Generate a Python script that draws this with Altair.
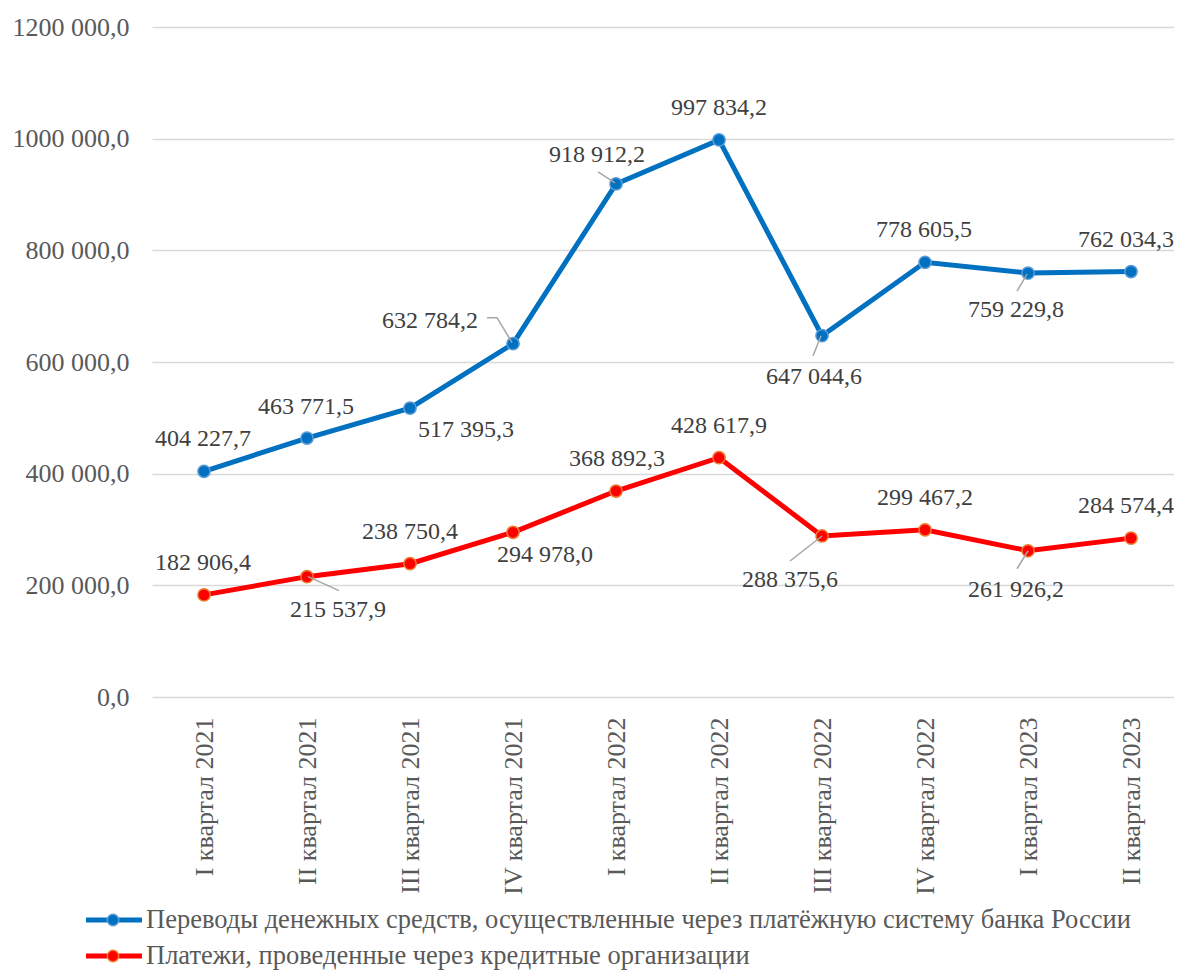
import json
import altair as alt
import pandas as pd

# ---------------- data ----------------
quarters = [
    "I квартал 2021", "II квартал 2021", "III квартал 2021", "IV квартал 2021",
    "I квартал 2022", "II квартал 2022", "III квартал 2022", "IV квартал 2022",
    "I квартал 2023", "II квартал 2023",
]
transfers = [404227.7, 463771.5, 517395.3, 632784.2, 918912.2,
             997834.2, 647044.6, 778605.5, 759229.8, 762034.3]
payments = [182906.4, 215537.9, 238750.4, 294978.0, 368892.3,
            428617.9, 288375.6, 299467.2, 261926.2, 284574.4]
series_names = [
    "Переводы денежных средств, осуществленные через платёжную систему банка России",
    "Платежи, проведенные через кредитные организации",
]
line_colors = ["#0070C0", "#FF0000"]
marker_strokes = ["#5B9BD5", "#ED7D31"]
y_ticks = [0, 200000, 400000, 600000, 800000, 1000000, 1200000]

# label offsets in pixels (dx, dy) from each point
label_offsets = [
    [(-1, -32), (-1, -31), (56, 22), (-83, -23), (-19, -29),
     (0, -32), (-8, 41), (-1, -32), (-12, 37), (-5, -32)],
    [(-1, -32), (31, 33), (0, -32), (32, 23), (1, -32),
     (0, -32), (-32, 44), (0, -32), (-12, 39), (-5, -32)],
]
# leader lines (pixel offsets from point), keyed by (series, index)
leaders = {
    (0, 3): [(-26, -26), (-16, -26), (-1, -1)],
    (0, 4): [(-18, -12), (-1, -1)],
    (0, 6): [(-9, 20), (-1, 0)],
    (0, 8): [(-11, 18), (-1, 1)],
    (1, 1): [(32, 14), (1, 0)],
    (1, 6): [(-32, 25), (0, 0)],
    (1, 8): [(-11, 18), (0, 0)],
}

# ---------------- geometry ----------------
W, H = 1022, 670
X_DOM = [-0.505, 9.417]
Y_DOM = [0, 1200000]
PX_X = W / (X_DOM[1] - X_DOM[0])
PX_Y = H / (Y_DOM[1] - Y_DOM[0])
FONT = "Liberation Serif"
FS = 24
AXIS_FS = 26
LEG_FS = 26.5


def fmt(v):
    return f"{v:,.1f}".replace(",", " ").replace(".", ",")


rows, lab_rows, lead_rows = [], [], []
for s, vals in enumerate([transfers, payments]):
    for i, v in enumerate(vals):
        rows.append({"i": i, "v": v, "series": series_names[s]})
        dx, dy = label_offsets[s][i]
        lab_rows.append({"lx": i + dx / PX_X, "ly": v - dy / PX_Y, "txt": fmt(v)})
        if (s, i) in leaders:
            for k, (ox, oy) in enumerate(leaders[(s, i)]):
                lead_rows.append({"id": f"{s}-{i}", "k": k,
                                  "lx": i + ox / PX_X, "ly": v - oy / PX_Y})

df = pd.DataFrame(rows)
lab_df = pd.DataFrame(lab_rows)
lead_df = pd.DataFrame(lead_rows)

label_expr = json.dumps(quarters, ensure_ascii=False) + "[datum.value]"

x_axis = alt.Axis(values=list(range(10)), labelExpr=label_expr, labelAngle=270,
                  labelAlign="right", labelBaseline="middle", labelPadding=20,
                  labelFont=FONT, labelFontSize=AXIS_FS, labelColor="#595959",
                  grid=False, ticks=False, domain=False, title=None,
                  labelOverlap=False, labelFlush=False, labelBound=False)
y_axis = alt.Axis(values=y_ticks,
                  labelExpr="datum.value == 0 ? '0,0' : floor(datum.value/1000) + ' 000,0'",
                  labelFont=FONT, labelFontSize=AXIS_FS, labelColor="#595959",
                  labelPadding=23, grid=True, gridColor="#D9D9D9", gridWidth=1.5,
                  ticks=False, domain=False, title=None)

xs = alt.Scale(domain=X_DOM, nice=False, zero=False)
ys = alt.Scale(domain=Y_DOM, nice=False)

base = alt.Chart(df)
lines = base.mark_line(strokeWidth=5).encode(
    x=alt.X("i:Q", scale=xs, axis=x_axis),
    y=alt.Y("v:Q", scale=ys, axis=y_axis),
    color=alt.Color("series:N", scale=alt.Scale(domain=series_names, range=line_colors), legend=None),
)
points = base.mark_point(filled=True, size=150, strokeWidth=1.5, opacity=1).encode(
    x="i:Q", y="v:Q",
    fill=alt.Fill("series:N", scale=alt.Scale(domain=series_names, range=line_colors), legend=None),
    stroke=alt.Stroke("series:N", scale=alt.Scale(domain=series_names, range=marker_strokes), legend=None),
)
leader_lines = alt.Chart(lead_df).mark_line(color="#A6A6A6", strokeWidth=1.5).encode(
    x="lx:Q", y="ly:Q", detail="id:N", order="k:Q")
labels = alt.Chart(lab_df).mark_text(font=FONT, fontSize=FS, color="#404040",
                                      align="center", baseline="middle").encode(
    x="lx:Q", y="ly:Q", text="txt:N")

# manual legend
legend_layers = []
row_y = [893, 929]
for s in range(2):
    ldf = pd.DataFrame({"name": [series_names[s]]})
    lc = alt.Chart(ldf)
    legend_layers.append(lc.mark_rule(color=line_colors[s], strokeWidth=5).encode(
        x=alt.value(-66), x2=alt.value(-10), y=alt.value(row_y[s])))
    legend_layers.append(lc.mark_point(filled=True, size=130, strokeWidth=1.5, opacity=1,
                                       fill=line_colors[s], stroke=marker_strokes[s]).encode(
        x=alt.value(-39), y=alt.value(row_y[s])))
    legend_layers.append(lc.mark_text(font=FONT, fontSize=LEG_FS, color="#595959",
                                      align="left", baseline="middle").encode(
        x=alt.value(-6), y=alt.value(row_y[s]), text="name:N"))

chart = alt.layer(lines, points, leader_lines, labels, *legend_layers).properties(
    width=W, height=H,
    autosize=alt.AutoSizeParams(type="none"),
    padding={"left": 144, "top": 19, "right": 0, "bottom": 275},
).configure_view(stroke=None)

chart.save("out.html", embed_options={"renderer": "svg", "actions": False})
